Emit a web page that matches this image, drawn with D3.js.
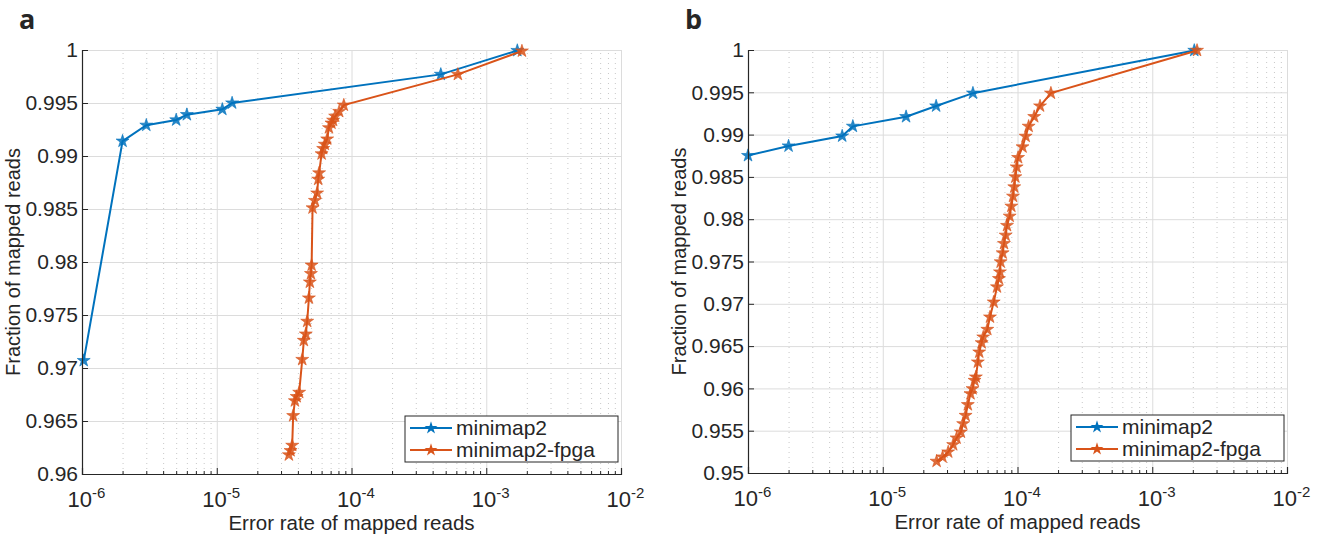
<!DOCTYPE html>
<html>
<head>
<meta charset="utf-8">
<script src="https://cdn.jsdelivr.net/npm/d3@7"></script>
<style>
  body { margin: 0; background: #fff; }
  svg text { font-family: "Liberation Sans", Arial, sans-serif; fill: #262626; }
  .grid line { stroke: #dcdcdc; stroke-width: 1; }
  .minor line { stroke: #c8c8c8; stroke-width: 1; stroke-dasharray: 1 4; }
  .grid path, .minor path { display: none; }
</style>
</head>
<body>
<svg id="chart" width="1326" height="537"></svg>
<script>
// panel a
const aBlueX = [1.03e-6, 2.0e-6, 3.0e-6, 5.0e-6, 6.0e-6, 1.1e-5, 1.3e-5, 4.6e-4, 1.7e-3]
const aBlueY = [0.9707, 0.9914, 0.9929, 0.9934, 0.9939, 0.9944, 0.9950, 0.9977, 0.99995]
const aFpgaX = [3.43e-5, 3.53e-5, 3.63e-5, 3.69e-5, 3.8e-5, 3.92e-5, 4.09e-5, 4.31e-5, 4.43e-5, 4.58e-5,
    4.69e-5, 4.83e-5, 4.91e-5, 5.0e-5, 5.06e-5, 5.14e-5, 5.35e-5, 5.56e-5, 5.66e-5, 5.75e-5,
    6.0e-5, 6.16e-5, 6.34e-5, 6.6e-5, 6.8e-5, 7.1e-5, 7.3e-5, 7.56e-5, 8.1e-5, 8.77e-5, 6.16e-4, 1.84e-3]
const aFpgaY = [0.9618, 0.9622, 0.9627, 0.9655, 0.9669, 0.9673, 0.9677, 0.9708, 0.9726, 0.9732,
    0.9744, 0.9766, 0.9781, 0.9789, 0.9797, 0.9851, 0.9858, 0.9865, 0.9878, 0.9884,
    0.9902, 0.9907, 0.9911, 0.9916, 0.99266, 0.9931, 0.99337, 0.99375, 0.9942, 0.9948, 0.9977, 0.9999]

// panel b
const bBlueX = [1.0e-6, 2.0e-6, 5.0e-6, 6.0e-6, 1.49e-5, 2.49e-5, 4.67e-5, 2.05e-3]
const bBlueY = [0.98752, 0.98865, 0.98983, 0.99098, 0.99212, 0.99338, 0.9949, 0.99995]
const bFpgaX = [2.51e-5, 2.78e-5, 3.06e-5, 3.33e-5, 3.53e-5, 3.8e-5, 3.95e-5, 4.12e-5, 4.28e-5, 4.48e-5,
    4.64e-5, 4.8e-5, 4.91e-5, 5.08e-5, 5.2e-5, 5.42e-5, 5.57e-5, 5.97e-5, 6.25e-5, 6.66e-5,
    7.04e-5, 7.28e-5, 7.41e-5, 7.5e-5, 7.76e-5, 7.94e-5, 8.17e-5, 8.36e-5, 8.75e-5, 9.0e-5,
    9.26e-5, 9.46e-5, 9.64e-5, 9.86e-5, 1.01e-4, 1.09e-4, 1.15e-4, 1.21e-4, 1.33e-4, 1.47e-4,
    1.77e-4, 2.15e-3]
const bFpgaY = [0.95138, 0.95189, 0.95248, 0.95334, 0.95413, 0.95484, 0.95582, 0.9568, 0.95807, 0.95937,
    0.95996, 0.96094, 0.96134, 0.96311, 0.96429, 0.96539, 0.96607, 0.96697, 0.96843, 0.9702,
    0.97199, 0.97297, 0.97376, 0.97495, 0.97601, 0.97712, 0.9781, 0.97925, 0.98035, 0.98153,
    0.98271, 0.98381, 0.985, 0.98617, 0.98728, 0.98854, 0.9898, 0.99098, 0.99212, 0.99338,
    0.9949, 0.99995]

const xTicks = [1e-6, 1e-5, 1e-4, 1e-3, 1e-2]
const xExp = ['-6', '-5', '-4', '-3', '-2']
const aYTicks = [0.96, 0.965, 0.97, 0.975, 0.98, 0.985, 0.99, 0.995, 1]
const bYTicks = [0.95, 0.955, 0.96, 0.965, 0.97, 0.975, 0.98, 0.985, 0.99, 0.995, 1]
const seriesNames = ['minimap2', 'minimap2-fpga']
const colors = ['#0072BD', '#D95319']

const svg = d3.select('#chart')

const minorTicks = []
for (let e = -6; e < -2; e++) {
    for (let k = 2; k <= 9; k++) minorTicks.push(k * Math.pow(10, e))
}

function fmtY(d) {
    return d === 1 ? '1' : d3.format('.3~f')(d)
}

function panel(opt) {
    const x = d3.scaleLog().domain([1e-6, 1e-2]).range([opt.left, opt.right])
    const y = d3.scaleLinear().domain(opt.yDomain).range([opt.bottom, opt.top])
    const g = svg.append('g')
    const h = opt.bottom - opt.top
    const w = opt.right - opt.left

    // minor dotted grid
    g.append('g').attr('class', 'minor')
        .attr('transform', `translate(0,${opt.bottom})`)
        .call(d3.axisBottom(x).tickValues(minorTicks).tickSize(-h).tickFormat(''))
    // major grid
    g.append('g').attr('class', 'grid')
        .attr('transform', `translate(0,${opt.bottom})`)
        .call(d3.axisBottom(x).tickValues(xTicks).tickSize(-h).tickFormat(''))
    g.append('g').attr('class', 'grid')
        .attr('transform', `translate(${opt.left},0)`)
        .call(d3.axisLeft(y).tickValues(opt.yTicks).tickSize(-w).tickFormat(''))

    // series
    const line = d3.line().x(d => x(d[0])).y(d => y(d[1]))
    opt.series.forEach((s, i) => {
        const pts = s.x.map((v, j) => [v, s.y[j]])
        g.append('path')
            .datum(pts)
            .attr('fill', 'none')
            .attr('stroke', colors[i])
            .attr('stroke-width', 2)
            .attr('d', line)
        g.append('g').selectAll('path')
            .data(pts)
            .enter()
            .append('path')
            .attr('d', d3.symbol(d3.symbolStar, 52))
            .attr('transform', d => `translate(${x(d[0])},${y(d[1])})`)
            .attr('fill', colors[i])
            .attr('stroke', colors[i])
            .attr('stroke-width', 0.6)
            .attr('fill-opacity', 0.85)
    })

    // axes
    const xAxis = g.append('g')
        .attr('transform', `translate(0,${opt.bottom})`)
        .call(d3.axisBottom(x).tickValues(xTicks).tickSize(-6).tickFormat(''))
    xAxis.selectAll('.tick').append('text')
        .attr('y', 33)
        .attr('dx', 4)
        .attr('text-anchor', 'middle')
        .style('font-size', '22px')
        .each(function(d, i) {
            const t = d3.select(this)
            t.append('tspan').text('10')
            t.append('tspan').attr('dy', -9).style('font-size', '15px').text(xExp[i])
        })
    g.append('g')
        .attr('transform', `translate(0,${opt.bottom})`)
        .call(d3.axisBottom(x).tickValues(minorTicks).tickSize(-3).tickFormat(''))
        .call(a => a.select('.domain').remove())
    const yAxis = g.append('g')
        .attr('transform', `translate(${opt.left},0)`)
        .call(d3.axisLeft(y).tickValues(opt.yTicks).tickSize(-6).tickPadding(4).tickFormat(fmtY))
    yAxis.selectAll('text').style('font-size', '21px')
    g.selectAll('.domain').attr('stroke', '#262626').attr('stroke-width', 1.2)
    g.selectAll('.tick line').filter(function() { return !this.closest('.grid') && !this.closest('.minor') })
        .attr('stroke', '#262626')

    // labels
    g.append('text')
        .attr('x', (opt.left + opt.right) / 2)
        .attr('y', opt.bottom + 56)
        .attr('text-anchor', 'middle')
        .style('font-size', '20.5px')
        .text('Error rate of mapped reads')
    g.append('text')
        .attr('transform', `translate(${opt.left - 62},${(opt.top + opt.bottom) / 2}) rotate(-90)`)
        .attr('text-anchor', 'middle')
        .style('font-size', '20px')
        .text('Fraction of mapped reads')
    g.append('text')
        .attr('x', opt.left - 63)
        .attr('y', 29)
        .style('font-size', '27px')
        .style('font-weight', 'bold')
        .style('font-family', '"Open Sans", sans-serif')
        .text(opt.tag)

    // legend
    const lg = g.append('g').attr('transform', `translate(${opt.right - 216},${opt.bottom - 58})`)
    lg.append('rect')
        .attr('width', 213).attr('height', 46)
        .attr('fill', '#fff').attr('stroke', '#262626').attr('stroke-width', 1)
    seriesNames.forEach((name, i) => {
        const yy = 12 + i * 22
        lg.append('line').attr('x1', 5).attr('x2', 47).attr('y1', yy).attr('y2', yy)
            .attr('stroke', colors[i]).attr('stroke-width', 2)
        lg.append('path').attr('d', d3.symbol(d3.symbolStar, 52))
            .attr('transform', `translate(26,${yy})`).attr('fill', colors[i])
        lg.append('text').attr('x', 51).attr('y', yy + 7)
            .style('font-size', '21px').text(name)
    })
}

panel({
    left: 82, right: 621, top: 50, bottom: 474,
    yDomain: [0.96, 1], yTicks: aYTicks, tag: 'a',
    series: [{ x: aBlueX, y: aBlueY }, { x: aFpgaX, y: aFpgaY }]
})
panel({
    left: 748, right: 1287, top: 50, bottom: 473,
    yDomain: [0.95, 1], yTicks: bYTicks, tag: 'b',
    series: [{ x: bBlueX, y: bBlueY }, { x: bFpgaX, y: bFpgaY }]
})
</script>
</body>
</html>
